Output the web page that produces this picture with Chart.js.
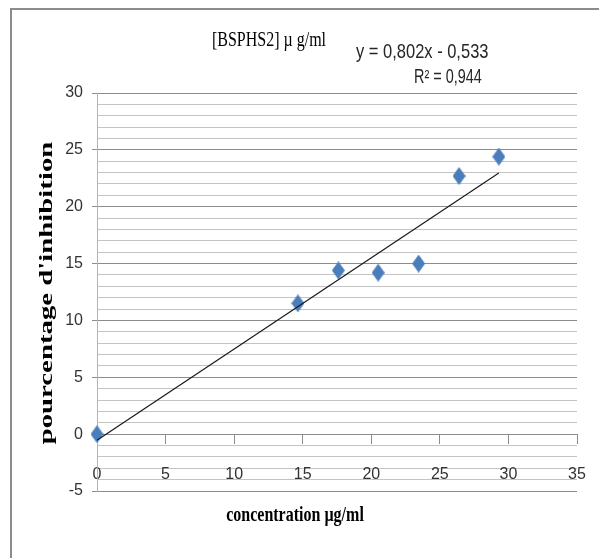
<!DOCTYPE html>
<html>
<head>
<meta charset="utf-8">
<script src="https://cdn.jsdelivr.net/npm/chart.js@4.4.1/dist/chart.umd.min.js"></script>
<style>
  html, body { margin: 0; padding: 0; background: #fff; }
  #wrap { position: relative; width: 599px; height: 558px; overflow: hidden; }
  #c { position: absolute; left: 0; top: 0; }
  #frame { position: absolute; left: 10px; top: 8px; width: 600px; height: 560px;
           border-top: 2px solid #8c8c8c; border-left: 2px solid #8c8c8c; pointer-events: none; }
</style>
</head>
<body>
<div id="wrap">
  <canvas id="c" width="599" height="558"></canvas>
  <div id="frame"></div>
</div>
<script>
// ---- data ----
const concentrations = [0, 14.65, 17.6, 20.5, 23.45, 26.4, 29.3];   // µg/ml
const inhibition     = [0, 11.5, 14.4, 14.2, 15.0, 22.7, 24.4];     // %
const trendSlope = 0.802;
const trendIntercept = -0.533;
const trendRange = [0, 29.3];
const xTickLabels = ['0', '5', '10', '15', '20', '25', '30', '35'];
const yTickLabels = ['-5', '0', '5', '10', '15', '20', '25', '30'];
const chartTitle = '[BSPHS2] µ g/ml';
const equationText = 'y = 0,802x - 0,533';
const r2Text = 'R² = 0,944';
const xTitle = 'concentration µg/ml';
const yTitle = "pourcentage d'inhibition";

const scatterPoints = concentrations.map((c, i) => ({ x: c, y: inhibition[i] }));
const trendPoints = trendRange.map(x => ({ x: x, y: trendSlope * x + trendIntercept }));

// diamond marker
const marker = document.createElement('canvas');
marker.width = 13; marker.height = 18;
(function () {
  const m = marker.getContext('2d');
  m.fillStyle = '#4a7ebb';
  m.beginPath();
  m.moveTo(6.5, 0); m.lineTo(13, 9); m.lineTo(6.5, 18); m.lineTo(0, 9);
  m.closePath(); m.fill();
})();

const SANS = '"Liberation Sans", Arial, sans-serif';
const SERIF = '"Liberation Serif", "Times New Roman", serif';

function stretchedText(ctx, text, x, y, sx, sy) {
  ctx.save();
  ctx.translate(x, y);
  ctx.scale(sx, sy);
  ctx.fillText(text, 0, 0);
  ctx.restore();
}

const textPlugin = {
  id: 'texts',
  afterDraw(chart) {
    const ctx = chart.ctx;
    ctx.save();
    ctx.textBaseline = 'middle';
    ctx.textAlign = 'center';
    ctx.fillStyle = '#000';
    ctx.font = '16px ' + SERIF;
    stretchedText(ctx, chartTitle, 269, 40, 1, 1.35);

    ctx.fillStyle = '#262626';
    ctx.textAlign = 'left';
    ctx.font = '17px ' + SANS;
    stretchedText(ctx, equationText, 356, 53, 0.97, 1.15);
    stretchedText(ctx, r2Text, 414, 78, 0.85, 1.15);

    ctx.fillStyle = '#000';
    ctx.textAlign = 'center';
    ctx.font = 'bold 16px ' + SERIF;
    stretchedText(ctx, xTitle, 295, 516, 1, 1.3);

    ctx.translate(47, 293);
    ctx.rotate(-Math.PI / 2);
    ctx.scale(1.6, 1);
    ctx.font = 'bold 18px ' + SERIF;
    ctx.fillText(yTitle, 0, 0);
    ctx.restore();
  }
};

const tickFont = { family: SANS, size: 16 };
const MAJOR = '#8c8c8c';
const MINOR = '#c4c4c4';

new Chart(document.getElementById('c'), {
  type: 'scatter',
  data: {
    datasets: [
      {
        type: 'line',
        label: 'trend',
        data: trendPoints,
        borderColor: '#1a1a1a',
        borderWidth: 1.2,
        pointRadius: 0,
        fill: false,
        clip: false
      },
      {
        label: 'BSPHS2',
        data: scatterPoints,
        pointStyle: marker,
        pointRadius: 7,
        backgroundColor: '#4a7ebb',
        borderColor: '#4a7ebb',
        clip: false
      }
    ]
  },
  options: {
    responsive: false,
    devicePixelRatio: 1,
    animation: false,
    layout: { padding: { left: 0, top: 93, right: 22, bottom: 67 } },
    plugins: { legend: { display: false }, tooltip: { enabled: false }, title: { display: false } },
    scales: {
      x: {
        type: 'linear',
        position: { y: 0 },
        min: 0, max: 35,
        ticks: {
          stepSize: 5, autoSkip: false, maxRotation: 0, padding: 22,
          font: tickFont, color: '#333',
          callback: (v) => xTickLabels[xTickLabels.indexOf(String(v))] ?? ''
        },
        grid: { drawOnChartArea: false, drawTicks: true, tickLength: 9, color: MAJOR },
        border: { color: MAJOR, width: 1 },
        afterFit: (s) => { s.paddingLeft = 0; s.paddingRight = 0; }
      },
      y: {
        type: 'linear',
        position: 'left',
        min: -5, max: 30,
        ticks: {
          stepSize: 1, autoSkip: false, padding: 9,
          font: tickFont, color: '#333',
          callback: (v) => { const s = String(v); return yTickLabels.includes(s) ? s : ''; }
        },
        grid: {
          color: (c) => (c.tick && c.tick.value % 5 === 0) ? MAJOR : MINOR,
          tickColor: (c) => (c.tick && c.tick.value % 5 === 0) ? MAJOR : 'rgba(0,0,0,0)',
          tickLength: 5
        },
        border: { color: '#b3b3b3', width: 1 },
        afterFit: (s) => { s.width = 97; }
      }
    }
  },
  plugins: [textPlugin]
});
</script>
</body>
</html>
